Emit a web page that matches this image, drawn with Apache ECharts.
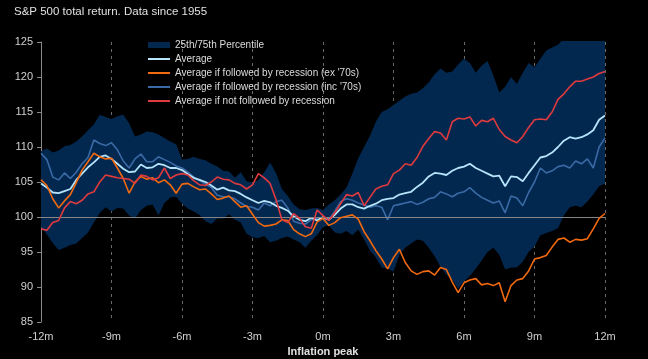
<!DOCTYPE html>
<html><head><meta charset="utf-8">
<script src="https://cdn.jsdelivr.net/npm/echarts@6/dist/echarts.min.js"></script>
<style>html,body{margin:0;padding:0;background:#000;}#c{width:648px;height:359px;}</style>
</head><body><div id="c"></div>
<script>
const title = "S&P 500 total return. Data since 1955";
const xTicks = [-12,-9,-6,-3,0,3,6,9,12];
const stepMonths = 0.25;
const baseline = 100;
const average = [104.8,104.2,103.5,103.4,103.7,104.0,105.3,106.2,107.1,107.8,108.6,108.8,108.3,107.6,106.9,106.4,106.5,107.5,107.0,107.1,107.6,107.4,107.0,107.0,106.7,106.1,105.6,105.3,105.0,104.5,103.9,104.2,103.8,103.7,103.3,102.8,102.4,102.0,102.3,102.1,101.6,101.3,100.9,100.1,99.6,99.4,99.9,99.5,100.0,99.6,100.3,101.2,101.8,101.8,101.4,101.2,101.6,101.9,102.4,102.6,102.7,103.2,103.4,103.6,104.3,104.9,105.8,106.3,106.2,106.0,106.6,107.0,107.2,107.6,107.0,106.6,106.2,105.8,105.9,104.4,105.8,105.7,105.1,106.3,107.4,108.5,108.7,109.2,110.0,110.9,111.4,111.2,111.4,111.8,112.4,113.9,114.5];
const recInc70 = [109.1,108.2,105.7,105.3,106.3,105.5,106.4,107.6,108.5,111.0,110.5,110.2,110.6,109.6,108.0,107.0,108.3,109.0,107.9,107.9,108.6,108.2,107.8,107.3,107.0,106.4,105.7,105.2,104.7,104.2,103.1,102.9,102.9,102.6,102.0,101.5,101.4,101.0,102.0,101.6,102.2,102.4,101.3,99.4,99.1,99.0,99.6,99.8,99.8,99.6,100.8,102.2,102.6,102.4,102.0,101.7,101.4,101.6,101.4,99.6,101.6,101.8,102.0,102.2,101.8,102.1,102.6,102.8,103.6,103.3,102.9,103.4,103.6,104.2,103.4,102.8,102.4,102.0,102.3,100.6,103.0,102.7,101.6,103.5,105.0,107.0,106.3,106.6,107.2,107.4,107.0,108.0,107.6,108.3,107.0,110.0,111.3];
const recEx70 = [105.3,104.5,102.6,101.3,102.3,103.2,104.9,106.7,107.9,109.1,108.6,108.3,108.4,107.0,105.5,103.4,105.0,105.8,105.4,105.6,104.9,105.3,104.6,103.4,104.7,104.8,104.3,103.9,104.0,103.3,102.5,102.7,103.0,102.2,101.4,101.6,100.4,99.2,98.7,98.8,99.0,99.6,99.5,98.2,97.6,97.2,97.6,99.3,99.8,98.8,99.2,99.9,100.1,100.3,99.7,97.9,96.6,95.2,94.0,92.6,94.2,95.4,93.5,92.3,91.8,92.2,92.3,91.7,92.8,92.5,90.7,89.2,90.6,91.0,91.2,90.3,90.5,90.2,90.6,87.9,90.2,91.0,91.2,92.3,94.0,94.2,94.5,95.7,96.8,97.0,96.4,96.8,96.7,96.9,98.3,99.8,100.5];
const noRecession = [98.3,98.1,99.2,99.5,101.3,102.2,101.9,102.4,103.3,103.6,105.0,106.0,105.8,105.6,105.5,105.4,104.8,106.0,105.8,105.3,105.6,107.0,105.5,106.0,106.2,106.0,105.2,104.6,104.5,105.0,105.7,105.4,105.3,104.8,104.6,104.0,104.6,106.2,105.6,104.8,102.5,99.6,99.2,100.5,99.8,98.6,98.4,101.0,100.2,99.5,100.6,101.9,103.2,103.0,103.5,101.6,102.8,104.0,104.4,104.6,106.2,106.7,107.6,107.4,108.5,110.1,111.2,112.2,112.0,111.0,113.6,114.1,114.0,114.3,113.0,113.8,113.6,114.1,112.5,111.5,111.0,110.6,111.5,112.8,113.9,114.0,113.9,115.0,116.8,117.6,118.6,119.4,119.4,119.7,120.0,120.5,120.8];
const pct75 = [109.4,109.8,109.2,109.5,110.1,110.3,110.8,111.5,112.4,113.2,114.6,114.3,114.0,114.4,114.6,113.4,111.5,111.8,112.2,112.1,111.8,111.3,110.8,110.4,108.2,108.3,108.6,108.3,108.1,107.6,107.2,106.6,106.5,105.6,106.4,105.1,104.9,105.3,106.4,107.8,106.3,104.0,103.0,101.8,101.1,101.0,101.2,101.3,101.0,101.8,102.4,103.2,104.2,106.2,108.4,110.0,111.6,113.6,115.0,115.4,116.0,116.6,117.2,117.6,117.8,118.4,119.2,120.4,121.2,120.6,120.8,121.8,122.6,122.0,120.6,121.6,122.3,120.2,117.8,118.6,120.0,119.0,120.6,122.0,121.4,122.6,123.8,124.2,124.6,125.5,126.0,126.5,126.8,127.0,127.2,127.5,127.8];
const pct25 = [98.6,97.5,96.3,95.3,95.6,96.0,96.2,97.0,97.8,99.2,100.6,101.4,100.8,101.3,101.2,100.2,99.8,101.0,101.6,101.8,100.2,102.0,102.8,102.9,101.9,101.2,100.8,100.3,99.4,99.0,99.8,99.8,100.4,99.6,99.2,97.6,97.1,97.0,97.3,96.4,96.6,97.0,97.2,96.8,96.4,95.6,96.6,97.4,98.6,98.8,97.8,97.6,98.0,97.4,98.2,96.8,95.2,94.2,92.8,92.6,92.2,94.6,95.6,96.2,96.8,96.6,95.6,94.4,92.9,91.8,91.0,89.8,90.8,91.6,92.6,93.8,95.0,95.6,94.6,92.5,92.8,92.8,93.6,95.0,95.8,97.4,97.7,98.0,98.4,100.2,101.4,101.6,101.4,102.2,103.2,104.4,104.8];

const months = average.map((_, i) => String(-12 + i * stepMonths));
const tickEvery = 3 / stepMonths;
const bandWidth = pct75.map((v, i) => +(v - pct25[i]).toFixed(2));

const C = {band:'#03284f', avg:'#b5e4fb', ex:'#f2690f', inc:'#3a6aa6', red:'#df3a3e', ref:'#858585'};
const FONT = 'Liberation Sans, Arial, sans-serif';
const lineIcon = 'path://M0,0H22V2H0Z';

const chart = echarts.init(document.getElementById('c'), null, {renderer:'canvas'});
chart.setOption({
  backgroundColor:'#000',
  animation:false,
  title:{text:title, left:14, top:6, padding:0, textStyle:{color:'#e0e0e0', fontSize:11.5, fontWeight:'normal', fontFamily:FONT}},
  grid:{left:41, right:43, top:42, bottom:37, outerBoundsMode:'none', containLabel:false},
  legend:{
    left:148, top:39, padding:0, orient:'vertical', itemWidth:22, itemHeight:6, itemGap:2,
    textStyle:{color:'#dcdcdc', fontSize:10, lineHeight:12, fontFamily:FONT},
    data:[
      {name:'25th/75th Percentile', icon:'rect', itemStyle:{color:C.band}},
      {name:'Average', icon:lineIcon},
      {name:"Average if followed by recession (ex '70s)", icon:lineIcon},
      {name:"Average if followed by recession (inc '70s)", icon:lineIcon},
      {name:'Average if not followed by recession', icon:lineIcon}
    ]
  },
  xAxis:{
    type:'category', data:months, boundaryGap:false,
    name:'Inflation peak', nameLocation:'middle', nameGap:18,
    nameTextStyle:{color:'#e0e0e0', fontSize:11, fontWeight:'bold', fontFamily:FONT},
    axisLine:{show:false}, axisTick:{show:false},
    axisLabel:{color:'#d0d0d0', fontSize:11, fontFamily:FONT, margin:9, interval:tickEvery-1, formatter:v => v + 'm'},
    splitLine:{show:true, interval:tickEvery-1, lineStyle:{color:'#6a6a6a', type:[3,4], width:1}}
  },
  yAxis:{
    type:'value', min:85, max:125, interval:5,
    axisLine:{show:true, lineStyle:{color:'#8a8a8a'}},
    axisTick:{show:true, length:4, lineStyle:{color:'#8a8a8a'}},
    axisLabel:{color:'#d0d0d0', fontSize:11, fontFamily:FONT, margin:8},
    splitLine:{show:false}
  },
  series:[
    {name:'lowerBase', type:'line', stack:'band', data:pct25, symbol:'none',
     lineStyle:{opacity:0}, silent:true, z:1},
    {name:'25th/75th Percentile', type:'line', stack:'band', data:bandWidth, symbol:'none',
     lineStyle:{opacity:0}, itemStyle:{color:C.band}, areaStyle:{color:C.band, opacity:1}, z:1},
    {name:'refLine', type:'line', data:[], symbol:'none', silent:true, z:2, itemStyle:{color:C.ref},
     markLine:{silent:true, symbol:'none', label:{show:false}, itemStyle:{color:C.ref},
       lineStyle:{color:C.ref, type:'solid', width:1, opacity:1}, data:[{yAxis:baseline}]}},
    {name:"Average if followed by recession (inc '70s)", type:'line', data:recInc70, symbol:'none',
     lineStyle:{color:C.inc, width:1.6}, itemStyle:{color:C.inc}, z:3},
    {name:'Average', type:'line', data:average, symbol:'none',
     lineStyle:{color:C.avg, width:1.8}, itemStyle:{color:C.avg}, z:4},
    {name:"Average if followed by recession (ex '70s)", type:'line', data:recEx70, symbol:'none',
     lineStyle:{color:C.ex, width:1.6}, itemStyle:{color:C.ex}, z:5},
    {name:'Average if not followed by recession', type:'line', data:noRecession, symbol:'none',
     lineStyle:{color:C.red, width:1.6}, itemStyle:{color:C.red}, z:6}
  ]
});
</script></body></html>
